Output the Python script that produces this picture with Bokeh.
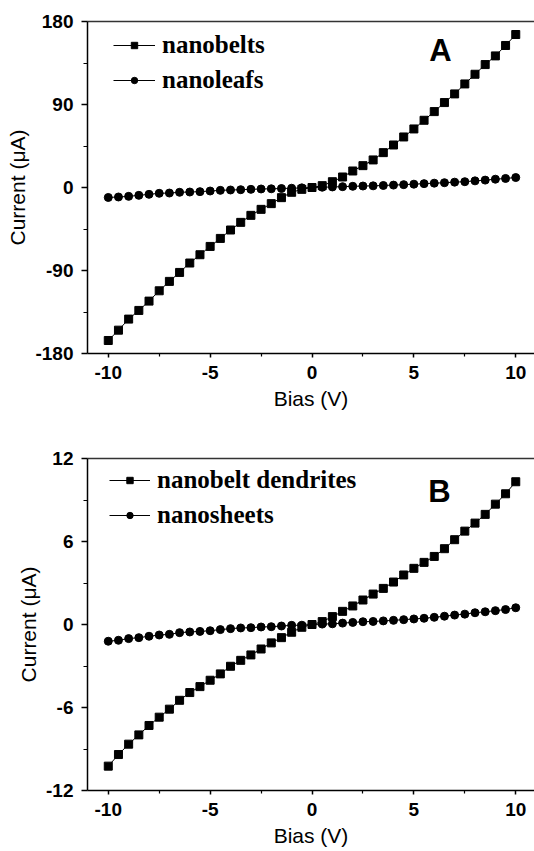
from bokeh.plotting import figure
from bokeh.models import Range1d, FixedTicker, Legend, LegendItem, Label, LinearAxis
from bokeh.layouts import column
from bokeh.embed import file_html
from bokeh.resources import INLINE

# ---------------- data ----------------
bias_v = [-10.0, -9.5, -9.0, -8.5, -8.0, -7.5, -7.0, -6.5, -6.0, -5.5, -5.0,
          -4.5, -4.0, -3.5, -3.0, -2.5, -2.0, -1.5, -1.0, -0.5, 0.0,
          0.5, 1.0, 1.5, 2.0, 2.5, 3.0, 3.5, 4.0, 4.5, 5.0,
          5.5, 6.0, 6.5, 7.0, 7.5, 8.0, 8.5, 9.0, 9.5, 10.0]

nanobelts_uA = [-165.9, -154.7, -142.7, -133.3, -123.2, -112.0, -101.8, -92.1, -81.9, -72.9,
                -63.9, -55.2, -46.1, -37.8, -30.2, -23.7, -17.5, -11.0, -5.2, -2.0, 0.0,
                2.0, 6.3, 11.4, 17.9, 23.7, 29.9, 37.8, 46.1, 54.8, 63.5,
                72.9, 82.3, 92.1, 101.5, 112.3, 122.8, 133.3, 142.7, 154.0, 165.9]

nanoleafs_uA = [-10.8, -10.3, -9.6, -8.5, -7.4, -6.3, -6.0, -5.2, -4.9, -4.5,
                -3.8, -3.1, -2.7, -2.4, -2.0, -1.6, -1.4, -1.1, -0.8, -0.4, 0.0,
                0.3, 0.6, 0.9, 1.3, 1.6, 1.8, 2.2, 2.6, 3.1, 3.6,
                4.2, 4.7, 5.2, 5.8, 6.3, 7.2, 8.0, 9.0, 9.8, 10.8]

dendrites_uA = [-10.24, -9.40, -8.65, -7.98, -7.30, -6.70, -6.12, -5.48, -4.92, -4.49,
                -4.03, -3.57, -3.02, -2.59, -2.20, -1.77, -1.33, -0.95, -0.56, -0.20, 0.0,
                0.21, 0.57, 0.95, 1.34, 1.77, 2.20, 2.61, 3.07, 3.58, 4.06,
                4.49, 4.92, 5.48, 6.13, 6.75, 7.33, 7.96, 8.70, 9.45, 10.32]

nanosheets_uA = [-1.21, -1.14, -1.02, -0.95, -0.85, -0.76, -0.71, -0.59, -0.54, -0.50,
                 -0.45, -0.37, -0.30, -0.25, -0.23, -0.18, -0.16, -0.11, -0.06, -0.05, 0.0,
                 0.03, 0.05, 0.10, 0.15, 0.20, 0.22, 0.26, 0.30, 0.35, 0.40,
                 0.45, 0.52, 0.60, 0.68, 0.75, 0.85, 0.92, 1.00, 1.08, 1.21]

x_ticks = [-10, -5, 0, 5, 10]
x_tick_labels = ["-10", "-5", "0", "5", "10"]
x_minor = [-7.5, -2.5, 2.5, 7.5]

yA_ticks = [-180, -90, 0, 90, 180]
yA_tick_labels = ["-180", "-90", "0", "90", "180"]
yA_minor = [-135, -45, 45, 135]

yB_ticks = [-12, -6, 0, 6, 12]
yB_tick_labels = ["-12", "-6", "0", "6", "12"]
yB_minor = [-9, -3, 3, 9]

series_A = ["nanobelts", "nanoleafs"]
series_B = ["nanobelt dendrites", "nanosheets"]

X_START, X_END = -11.02, 10.92
SANS = "Liberation Sans"
SERIF = "Liberation Serif"


def style_axis(ax, ticks, labels, minor):
    ax.ticker = FixedTicker(ticks=ticks, minor_ticks=minor)
    ax.major_label_overrides = {t: l for t, l in zip(ticks, labels)}
    ax.axis_line_color = "black"
    ax.axis_line_width = 1.5
    ax.major_tick_line_color = "black"
    ax.major_tick_line_width = 1.5
    ax.minor_tick_line_color = "black"
    ax.minor_tick_line_width = 1.2
    ax.major_label_text_font = SANS
    ax.major_label_text_font_style = "bold"
    ax.major_label_text_font_size = "19px"
    ax.major_label_text_color = "black"
    ax.axis_label_text_font = SANS
    ax.axis_label_text_font_style = "normal"
    ax.axis_label_text_font_size = "21px"
    ax.axis_label_text_color = "black"


def make_panel(height, b_top, b_bottom, yr, yticks, ylabels, yminor,
               ya, yb, names, letter, letter_xy, leg_loc, glyph_w):
    p = figure(width=534, height=height,
               x_range=Range1d(X_START, X_END), y_range=Range1d(*yr),
               output_backend="svg", toolbar_location=None,
               min_border_left=87, min_border_right=0,
               min_border_top=b_top, min_border_bottom=b_bottom)
    p.grid.visible = False
    p.outline_line_color = None
    p.background_fill_color = "white"

    style_axis(p.xaxis[0], x_ticks, x_tick_labels, x_minor)
    p.xaxis[0].axis_label = "Bias (V)"
    p.xaxis[0].major_tick_in = 0
    p.xaxis[0].major_tick_out = 4
    p.xaxis[0].minor_tick_in = 0
    p.xaxis[0].minor_tick_out = 3
    p.xaxis[0].major_label_standoff = 8
    p.xaxis[0].axis_label_standoff = 5

    style_axis(p.yaxis[0], yticks, ylabels, yminor)
    p.yaxis[0].axis_label = "Current (\u03bcA)"
    p.yaxis[0].major_tick_in = 0
    p.yaxis[0].major_tick_out = 6
    p.yaxis[0].minor_tick_in = 0
    p.yaxis[0].minor_tick_out = 4
    p.yaxis[0].major_label_standoff = 8
    p.yaxis[0].axis_label_standoff = 3

    top = LinearAxis(ticker=FixedTicker(ticks=[]), axis_line_color="#333333",
                     axis_line_width=1.5, major_tick_line_color=None,
                     minor_tick_line_color=None, major_label_text_font_size="0px")
    p.add_layout(top, "above")

    l1 = p.line(bias_v, ya, line_color="black", line_width=1)
    s1 = p.scatter(bias_v, ya, marker="square", size=8,
                   fill_color="black", line_color="black")
    l2 = p.line(bias_v, yb, line_color="black", line_width=1)
    s2 = p.scatter(bias_v, yb, marker="circle", size=8,
                   fill_color="black", line_color="black")

    leg = Legend(items=[LegendItem(label=names[0], renderers=[l1, s1]),
                        LegendItem(label=names[1], renderers=[l2, s2])],
                 location=leg_loc, glyph_width=glyph_w, glyph_height=16,
                 label_height=24, spacing=7, padding=0, margin=0,
                 label_standoff=7, border_line_color=None,
                 background_fill_alpha=0,
                 label_text_font=SERIF, label_text_font_style="bold",
                 label_text_font_size="25px", label_text_color="black")
    p.add_layout(leg)

    p.add_layout(Label(x=letter_xy[0], y=letter_xy[1], text=letter,
                       text_align="center", text_baseline="middle",
                       text_font=SANS, text_font_style="bold",
                       text_font_size="31px", text_color="black"))
    return p


pA = make_panel(430, 21, 77, (-180, 180), yA_ticks, yA_tick_labels, yA_minor,
                nanobelts_uA, nanoleafs_uA, series_A, "A", (6.3, 148.3),
                (26, 259), 42)
pB = make_panel(440, 28, 80, (-12, 12), yB_ticks, yB_tick_labels, yB_minor,
                dendrites_uA, nanosheets_uA, series_B, "B", (6.25, 9.6),
                (22, 261), 41)

layout = column(pA, pB, spacing=0)

html = file_html(layout, INLINE, title="IV curves")
html = html.replace("<head>", "<head><style>html,body{overflow:hidden;}</style>", 1)
with open("out.html", "w") as f:
    f.write(html)
